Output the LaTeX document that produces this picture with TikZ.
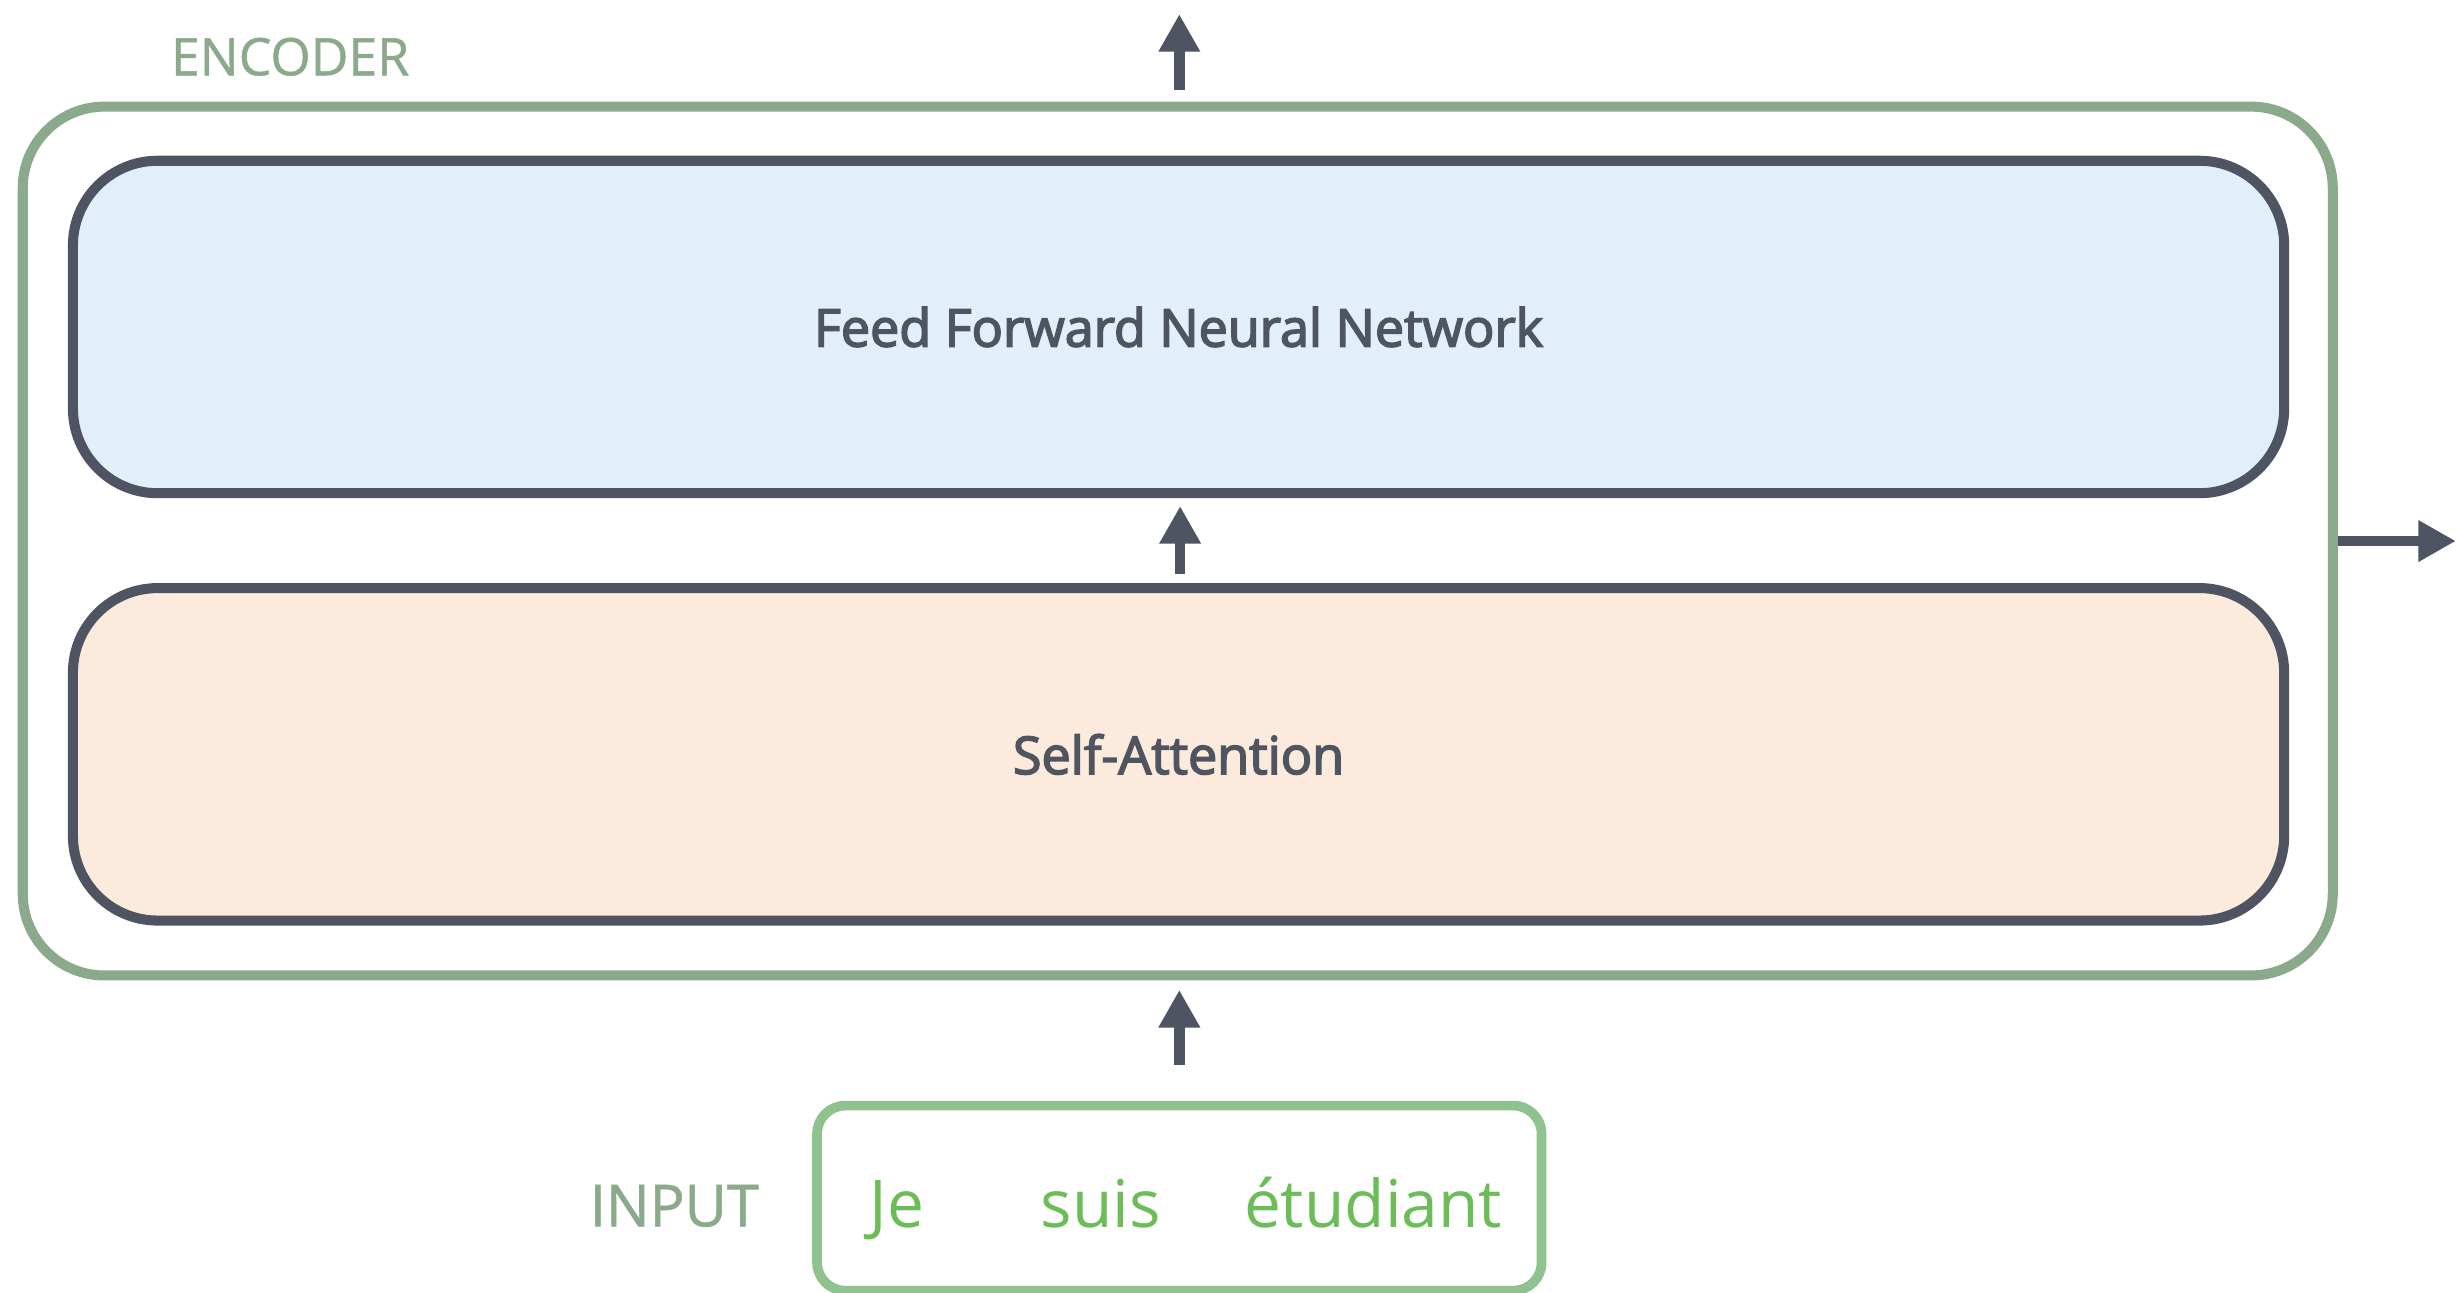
\documentclass[tikz,border=0pt]{standalone}
\usepackage{fontspec}
\setmainfont{Open Sans}
\newfontfamily\layerfont{Open Sans}[FakeBold=3]
\newfontfamily\capfont{Open Sans}[FakeBold=1]
\usetikzlibrary{arrows.meta}

\definecolor{encgreen}{HTML}{8BAA8B}
\definecolor{inpgreen}{HTML}{90C290}
\definecolor{wordgreen}{HTML}{6CBD58}
\definecolor{ink}{HTML}{4F5462}
\definecolor{inktext}{HTML}{4F5461}
\definecolor{ffnnfill}{HTML}{E2EEF8}
\definecolor{safill}{HTML}{FCEADC}

\tikzset{
  encbox/.style={draw=encgreen, line width=3.2pt, rounded corners=26pt, inner sep=0pt},
  layerbox/.style={draw=ink, line width=3.2pt, rounded corners=27pt, inner sep=0pt,
    minimum width={1410*0.5pt}, minimum height={212*0.5pt},
    font=\layerfont\fontsize{16.6pt}{19pt}\selectfont, text=inktext},
  inpbox/.style={draw=inpgreen, line width=3.1pt, rounded corners=9pt, inner sep=0pt},
  caption/.style={text=encgreen, inner sep=0pt, anchor=base},
  word/.style={text=wordgreen, inner sep=0pt, anchor=base,
    font=\fontsize{21pt}{25pt}\selectfont},
  arr/.style={draw=ink, line width=3.4pt, -{Triangle[length=12pt, width=12.5pt]}}
}

\begin{document}
\begin{tikzpicture}[x=0.5pt, y=-0.5pt]
  \useasboundingbox[fill=white] (0,0) rectangle (1568,824);

  % encoder frame and its title
  \node[encbox, minimum width={1473*0.5pt}, minimum height={554*0.5pt}] (enc) at (751,345) {};
  \node[caption, font=\capfont\fontsize{16.5pt}{20pt}\selectfont] (enctitle) at (185,48) {ENCODER};

  % the two sub-layers
  \node[layerbox, fill=ffnnfill] (ffnn) at (751.5,208.5) {Feed Forward Neural Network};
  \node[layerbox, fill=safill] (sa) at (751.5,481) {Self-Attention};

  % input sentence
  \node[inpbox, minimum width={462*0.5pt}, minimum height={118*0.5pt}] (inp) at (752,764) {};
  \node[caption, font=\capfont\fontsize{18.5pt}{22pt}\selectfont] (inplabel) at (430,782) {INPUT};
  \node[word] (w1) at (572,783) {Je};
  \node[word] (w2) at (702,783) {suis};
  \node[word] (w3) at (875.5,783) {étudiant};

  % free ends of the outgoing arrows
  \coordinate (outtop) at (752,9);
  \coordinate (outright) at (1566,345);

  % data flow
  \draw[arr] ([yshift=11.5pt]inp.north) -- ([xshift=0.5pt, yshift=-3pt]enc.south);
  \draw[arr] ([xshift=0.5pt, yshift=3pt]sa.north) -- ([xshift=0.5pt, yshift=-2.5pt]ffnn.south);
  \draw[arr] ([xshift=0.5pt, yshift=3.7pt]enc.north) -- (outtop);
  \draw[arr] (enc.east) -- (outright);
\end{tikzpicture}
\end{document}
